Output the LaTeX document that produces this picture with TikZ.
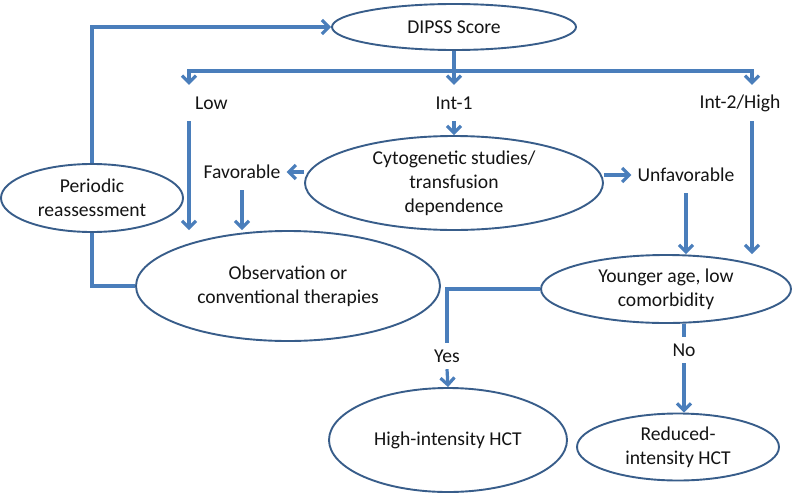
\documentclass[tikz,border=0pt]{standalone}
\usepackage{fontspec}
\setmainfont{Carlito}
\usetikzlibrary{shapes.geometric,arrows.meta}
\definecolor{linkblue}{RGB}{74,126,187}
\definecolor{rimblue}{RGB}{56,93,138}
\definecolor{txtgray}{RGB}{20,20,20}

\begin{document}
\begin{tikzpicture}[x=1pt,y=-1pt,
  oval/.style={ellipse,draw=rimblue,line width=1.9pt,fill=white,inner sep=0pt,align=center,text=txtgray,font=\fontsize{19.6}{24}\selectfont},
  lbl/.style={inner ysep=0pt,inner xsep=6pt,minimum height=36pt,text=txtgray,font=\fontsize{19.6}{24}\selectfont},
  link/.style={line width=3.2pt,color=linkblue},
  conn/.style={link,-{Straight Barb[length=7pt,width=14pt]}}]
\useasboundingbox (0,0) rectangle (800,498);
% ovals
\node[oval,minimum width=244pt,minimum height=46pt] (dipss) at (454,27) {DIPSS Score};
\node[oval,minimum width=298pt,minimum height=94pt] (cyto) at (454,183) {Cytogenetic studies/\\transfusion\\dependence};
\node[oval,minimum width=182pt,minimum height=68pt] (periodic) at (92,198) {Periodic\\reassessment};
\node[oval,minimum width=304pt,minimum height=110pt] (obs) at (288,286) {Observation or\\conventional therapies};
\node[oval,minimum width=250pt,minimum height=68pt] (young) at (666,289) {Younger age, low\\comorbidity};
\node[oval,minimum width=238pt,minimum height=104pt] (hict) at (448,440) {High-intensity HCT};
\node[oval,minimum width=202pt,minimum height=67pt] (rhct) at (678,447) {Reduced-\\intensity HCT};
% labels
\node[lbl,anchor=west] (low) at (189,103) {Low};
\node[lbl] (int1) at (454,103) {Int-1};
\node[lbl] (high) at (740,103) {Int-2/High};
\node[lbl] (fav) at (242,172) {Favorable};
\node[lbl] (unfav) at (686,175) {Unfavorable};
\node[lbl,minimum height=26pt] (yes) at (447,356) {Yes};
\node[lbl,minimum height=26pt] (no) at (684,350) {No};
\coordinate (fork) at (454,71);
% connectors
\draw[conn] (dipss.south) -- (int1.north);
\draw[conn] (fork) -| (low.north west);
\draw[conn] (fork) -| ([xshift=12pt]high.north);
\draw[conn] (int1.south) -- (cyto.north);
\draw[conn] (low.south west) -- (low.south west |- obs.north);
\draw[conn] (cyto.west |- fav.east) -- (fav.east);
\draw[conn] (fav.south) -- (fav.south |- obs.north);
\draw[conn] (cyto.east |- unfav.west) -- (unfav.west);
\draw[conn] (unfav.south) -- (unfav.south |- young.north);
\draw[conn] ([xshift=12pt]high.south) -- ([xshift=12pt]high.south |- young.north);
\draw[conn] (periodic.north) |- (dipss.west);
\draw[link] (periodic.south) |- (obs.west);
\draw[link] (young.west) -| (yes.north);
\draw[conn] (yes.south) -- (hict.north);
\draw[link] (no |- young.south) -- (no.north);
\draw[conn] (no.south) -- (no.south |- rhct.north);
\end{tikzpicture}
\end{document}
